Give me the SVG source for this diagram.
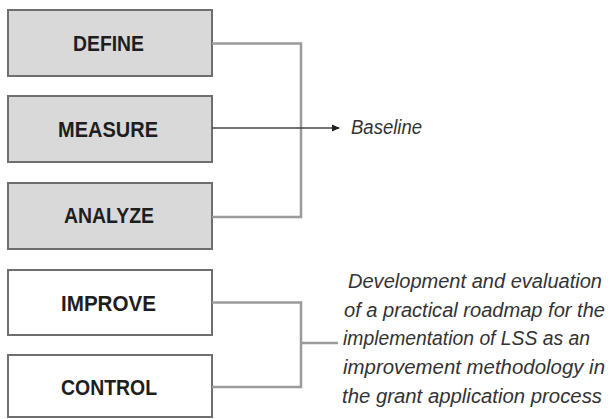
<svg xmlns="http://www.w3.org/2000/svg" width="611" height="419" viewBox="0 0 611 419">
<defs>
<style>
.box{stroke:#6f6f6f;stroke-width:2}
.grey{fill:#d9d9d9}
.white{fill:#ffffff}
.lbl{font-family:"Liberation Sans",Arial,sans-serif;font-weight:bold;font-size:21.5px;fill:#1e1e1e}
.con{fill:none;stroke:#9a9a9a;stroke-width:2.5}
.arr{fill:none;stroke:#444;stroke-width:1.3}
.it{font-family:"Liberation Sans",Arial,sans-serif;font-style:italic;font-size:19.5px;fill:#333}
</style>
<marker id="ah" markerWidth="8" markerHeight="8" refX="7" refY="4" orient="auto" markerUnits="userSpaceOnUse">
<path d="M0,0.5 L8,4 L0,7.5 Z" fill="#222"/>
</marker>
</defs>
<rect width="611" height="419" fill="#fff"/>
<g id="define"><rect class="box grey" x="8" y="10" width="204" height="66"/><text class="lbl" x="73" y="51" textLength="71" lengthAdjust="spacingAndGlyphs">DEFINE</text></g>
<g id="measure"><rect class="box grey" x="8" y="96" width="204" height="66"/><text class="lbl" x="58" y="137" textLength="100" lengthAdjust="spacingAndGlyphs">MEASURE</text></g>
<g id="analyze"><rect class="box grey" x="8" y="183" width="204" height="66"/><text class="lbl" x="64" y="223" textLength="90" lengthAdjust="spacingAndGlyphs">ANALYZE</text></g>
<g id="improve"><rect class="box white" x="8" y="270" width="204" height="65"/><text class="lbl" x="61" y="311" textLength="95" lengthAdjust="spacingAndGlyphs">IMPROVE</text></g>
<g id="control"><rect class="box white" x="8" y="355" width="204" height="62"/><text class="lbl" x="61" y="395" textLength="96" lengthAdjust="spacingAndGlyphs">CONTROL</text></g>
<g id="connectors">
<path class="con" d="M212,43.5 H301 V217 H212"/>
<path class="con" d="M212,302.5 H301 V387 H212 M301,343 H338"/>
<path class="arr" d="M212,128 H339" marker-end="url(#ah)"/>
</g>
<g id="baseline"><text class="it" x="351" y="134" textLength="71" lengthAdjust="spacingAndGlyphs">Baseline</text></g>
<g id="outcome">
<text class="it" x="348" y="288" textLength="254" lengthAdjust="spacingAndGlyphs">Development and evaluation</text>
<text class="it" x="344" y="316.5" textLength="261" lengthAdjust="spacingAndGlyphs">of a practical roadmap for the</text>
<text class="it" x="343" y="345" textLength="247" lengthAdjust="spacingAndGlyphs">implementation of LSS as an</text>
<text class="it" x="343" y="374" textLength="262" lengthAdjust="spacingAndGlyphs">improvement methodology in</text>
<text class="it" x="342" y="402.5" textLength="260" lengthAdjust="spacingAndGlyphs">the grant application process</text>
</g>
</svg>
